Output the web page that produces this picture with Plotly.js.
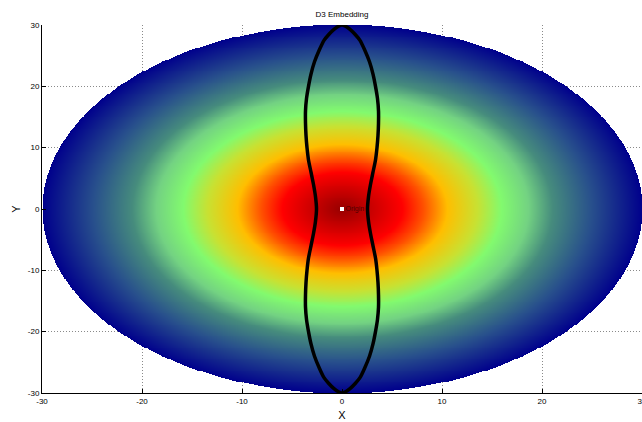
<!DOCTYPE html>
<html>
<head>
<meta charset="utf-8">
<script src="https://cdn.plot.ly/plotly-3.0.1.min.js"></script>
<style>html,body{margin:0;padding:0;background:#fff;}#chart{width:642px;height:422px;}</style>
</head>
<body>
<div id="chart"></div>
<script>
// Radial colour field: disc radius and colour stops (radius fraction -> colour)
const discRadius = 30;
const colorStops = [0, 0.2, 0.27, 0.35, 0.45, 0.53, 0.62, 0.7, 0.83, 1.0];
const colorValues = ['rgb(150,0,0)', 'rgb(255,0,0)', 'rgb(255,80,0)', 'rgb(255,190,0)',
  'rgb(200,225,50)', 'rgb(130,250,110)', 'rgb(115,210,130)', 'rgb(70,140,125)',
  'rgb(40,80,140)', 'rgb(0,0,140)'];

// Embedding curve (closed loop)
const curveX = [0, 0.35, 0.8, 1.3, 1.8, 2.25, 2.75, 3.1, 3.35, 3.55, 3.65, 3.65, 3.6, 3.5, 3.35, 3.1, 2.85, 2.65, 2.55,
  2.65, 2.85, 3.1, 3.35, 3.5, 3.6, 3.65, 3.65, 3.55, 3.35, 3.1, 2.75, 2.25, 1.8, 1.3, 0.8, 0.35, 0,
  -0.35, -0.8, -1.3, -1.8, -2.25, -2.75, -3.1, -3.35, -3.55, -3.65, -3.65, -3.6, -3.5, -3.35, -3.1, -2.85, -2.65, -2.55,
  -2.65, -2.85, -3.1, -3.35, -3.5, -3.6, -3.65, -3.65, -3.55, -3.35, -3.1, -2.75, -2.25, -1.8, -1.3, -0.8, -0.35, 0];
const curveY = [30, 29.8, 29.3, 28.5, 27.5, 26, 24, 22, 20, 18, 16, 14, 12, 10, 8, 6, 4, 2, 0,
  -2, -4, -6, -8, -10, -12, -14, -16, -18, -20, -22, -24, -26, -27.5, -28.5, -29.3, -29.8, -30,
  -29.8, -29.3, -28.5, -27.5, -26, -24, -22, -20, -18, -16, -14, -12, -10, -8, -6, -4, -2, 0,
  2, 4, 6, 8, 10, 12, 14, 16, 18, 20, 22, 24, 26, 27.5, 28.5, 29.3, 29.8, 30];

// Origin marker
const originX = [0];
const originY = [0];
const originLabel = ['Origin'];

// Tick labels
const tickVals = [-30, -20, -10, 0, 10, 20, 30];
const tickText = ['-30', '-20', '-10', '0', '10', '20', '30'];

// Grid for the radial field
const gx = [], gy = [];
for (let i = 0; i <= 600; i++) gx.push(-30 + i * 0.1);
for (let j = 0; j <= 400; j++) gy.push(-30 + j * 0.15);
const gz = gy.map(y => gx.map(x => {
  const r = Math.sqrt(x * x + y * y);
  return r <= discRadius ? r : null;
}));
const colorscale = colorStops.map((s, i) => [s, colorValues[i]]);

const traces = [
  {type: 'heatmap', x: gx, y: gy, z: gz, zmin: 0, zmax: discRadius, colorscale: colorscale,
   showscale: false, zsmooth: false, hoverinfo: 'skip'},
  {type: 'scatter', mode: 'lines', x: curveX, y: curveY, line: {color: '#000', width: 3.5, shape: 'spline', smoothing: 0.6},
   hoverinfo: 'skip'},
  {type: 'scatter', mode: 'markers+text', x: originX, y: originY, text: originLabel, textposition: 'middle right',
   textfont: {family: 'Liberation Sans, Arial, sans-serif', size: 7, color: '#500000'},
   marker: {color: '#fff', size: 4, symbol: 'square'}, hoverinfo: 'skip'}
];

const axisCommon = {
  range: [-30, 30], tickvals: tickVals, ticktext: tickText, ticks: 'inside', ticklen: 4, tickcolor: '#000',
  showline: true, linecolor: '#000', linewidth: 1, mirror: false, ticklabeloverflow: 'allow',
  showgrid: true, gridcolor: '#8a8a8a', griddash: '1px,2px', gridwidth: 1, zeroline: false,
  tickfont: {family: 'Liberation Sans, Arial, sans-serif', size: 8, color: '#000'}
};

const layout = {
  width: 642, height: 422,
  margin: {l: 42, r: 0, t: 25, b: 29, pad: 0},
  paper_bgcolor: '#fff', plot_bgcolor: '#fff',
  showlegend: false,
  title: {text: 'D3 Embedding', font: {family: 'Liberation Sans, Arial, sans-serif', size: 8, color: '#000'},
          x: 0.5, xref: 'paper', y: 1 - 14 / 422, yref: 'container', yanchor: 'middle'},
  xaxis: Object.assign({}, axisCommon, {title: {text: 'X', standoff: 6, font: {family: 'Liberation Sans, Arial, sans-serif', size: 11, color: '#000'}}}),
  yaxis: Object.assign({}, axisCommon, {title: {text: 'Y', standoff: 4, font: {family: 'Liberation Sans, Arial, sans-serif', size: 11, color: '#000'}}})
};

Plotly.newPlot('chart', traces, layout, {displayModeBar: false, staticPlot: true});
</script>
</body>
</html>
